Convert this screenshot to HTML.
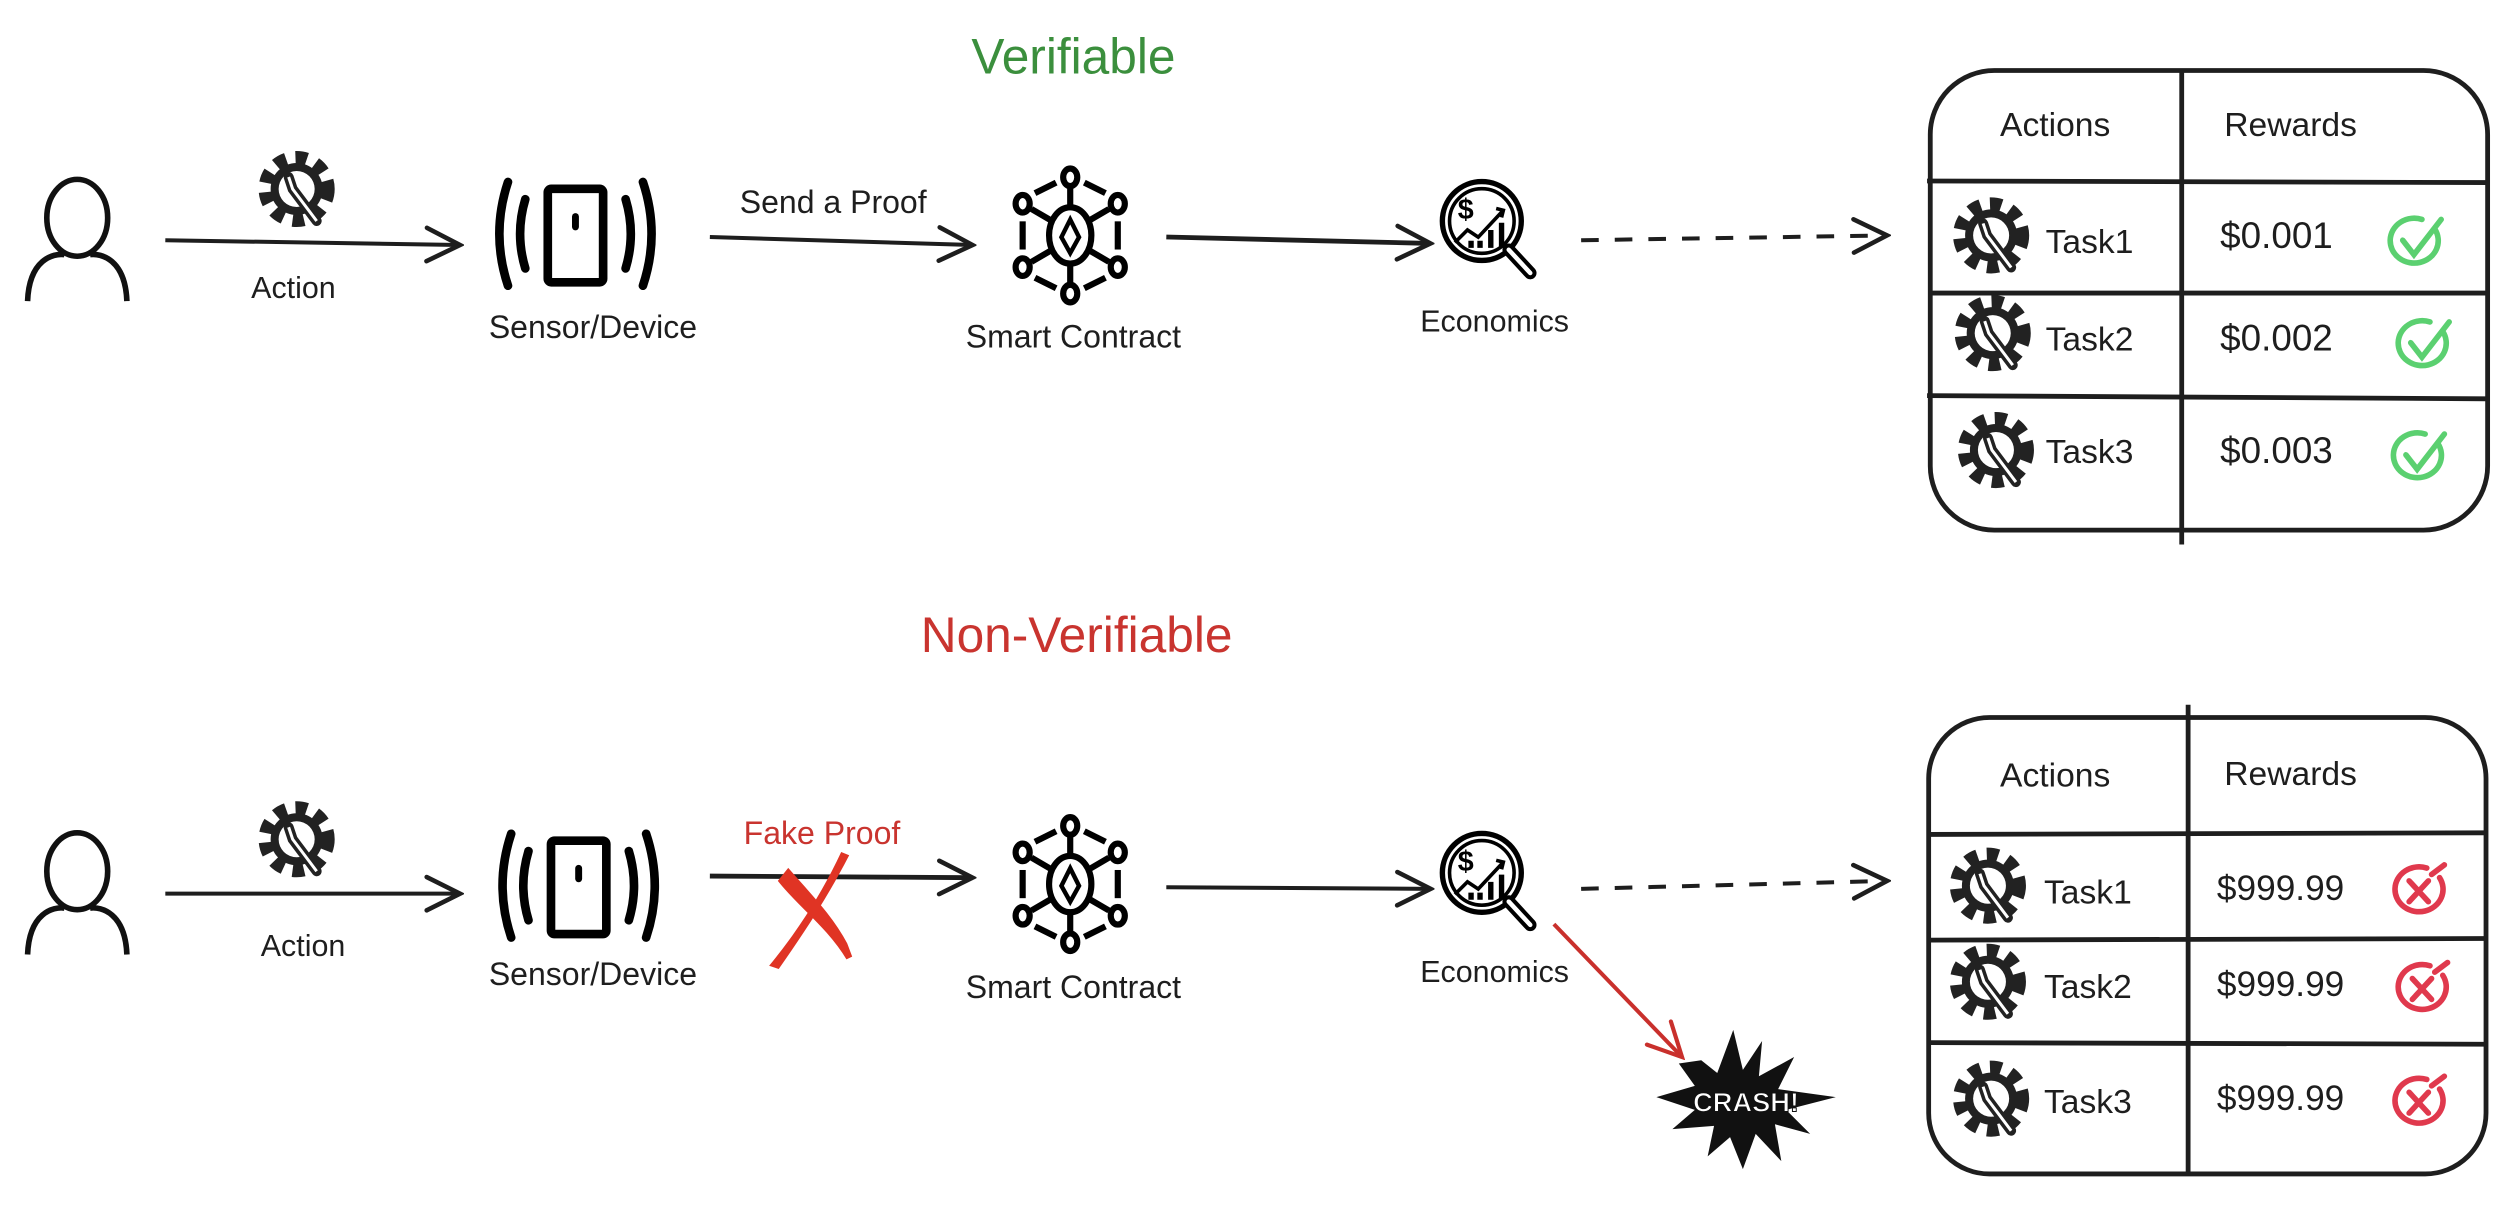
<!DOCTYPE html>
<html><head><meta charset="utf-8"><style>
html,body{margin:0;padding:0;background:#fff;}
svg{display:block;}
text{font-family:"Liberation Sans",sans-serif;}
</style></head><body>
<svg width="2512" height="1214" viewBox="0 0 1568 758" xmlns="http://www.w3.org/2000/svg">
<defs>
<marker id="ah" viewBox="0 0 20 20" refX="18" refY="10" markerWidth="26" markerHeight="26" markerUnits="userSpaceOnUse" orient="auto">
<path d="M2 2 L18 10 L2 18" fill="none" stroke="#1e1e1e" stroke-width="2.2" stroke-linecap="round"/></marker>
<marker id="ahr" viewBox="0 0 20 20" refX="18" refY="10" markerWidth="26" markerHeight="26" markerUnits="userSpaceOnUse" orient="auto">
<path d="M2 2 L18 10 L2 18" fill="none" stroke="#c9302c" stroke-width="2" stroke-linecap="round"/></marker>
<g id="gear0">
<circle cx="0" cy="0" r="15" fill="none" stroke="#222" stroke-width="8" stroke-dasharray="5.5 4.5"/>
<circle cx="0" cy="0" r="13" fill="#222"/>
<circle cx="0" cy="0" r="9" fill="#fff"/>
<path d="M-4 -6 L-2 0 L10 16" stroke="#222" stroke-width="5" fill="none" stroke-linecap="round"/>
<path d="M-4 -6 L-2 0 L10 16" stroke="#fff" stroke-width="1.5" fill="none"/>
</g>
<g id="gear"><use href="#gear0" transform="scale(1.25)"/></g>
<g id="person" fill="none" stroke="#111" stroke-width="3.5">
<ellipse cx="0" cy="-14" rx="19" ry="24"/>
<path d="M-31 38 C-30 12 -15 8 -8 9 M8 9 C15 8 30 12 31 38"/>
</g>
<g id="sensor0">
<rect x="-15" y="-26" width="32" height="54" rx="2" fill="none" stroke="#000" stroke-width="5"/>
<rect x="-1" y="-12" width="4" height="10" rx="2" fill="#000"/>
<path d="M-28 -20 Q-34 0 -28 20" fill="none" stroke="#000" stroke-width="5" stroke-linecap="round"/>
<path d="M-38 -30 Q-48 0 -38 30" fill="none" stroke="#000" stroke-width="5" stroke-linecap="round"/>
<path d="M30 -20 Q36 0 30 20" fill="none" stroke="#000" stroke-width="5" stroke-linecap="round"/>
<path d="M40 -30 Q50 0 40 30" fill="none" stroke="#000" stroke-width="5" stroke-linecap="round"/>
</g>
<g id="sensor"><use href="#sensor0" transform="scale(1.08)"/></g>
<g id="contract0" fill="none" stroke="#000" stroke-width="3.5">
<ellipse cx="0" cy="0" rx="12" ry="16"/>
<path d="M0 -9 L-5 1 L0 10 L5 1 Z" stroke-width="2.5"/>
<line x1="0" y1="-16" x2="0" y2="-28"/><line x1="0" y1="16" x2="0" y2="28"/>
<line x1="-10" y1="-8" x2="-22" y2="-15"/><line x1="10" y1="-8" x2="22" y2="-15"/>
<line x1="-10" y1="8" x2="-22" y2="15"/><line x1="10" y1="8" x2="22" y2="15"/>
<ellipse cx="0" cy="-33" rx="4" ry="5"/><ellipse cx="0" cy="33" rx="4" ry="5"/>
<ellipse cx="-27" cy="-18" rx="4" ry="5"/><ellipse cx="27" cy="-18" rx="4" ry="5"/>
<ellipse cx="-27" cy="18" rx="4" ry="5"/><ellipse cx="27" cy="18" rx="4" ry="5"/>
<line x1="-27" y1="-8" x2="-27" y2="8"/><line x1="27" y1="-8" x2="27" y2="8"/>
<line x1="-8" y1="-30" x2="-20" y2="-24"/><line x1="8" y1="-30" x2="20" y2="-24"/>
<line x1="-8" y1="30" x2="-20" y2="24"/><line x1="8" y1="30" x2="20" y2="24"/>
</g>
<g id="contract"><use href="#contract0" transform="scale(1.1)"/></g>
<g id="econ0" fill="none" stroke="#000">
<circle cx="0" cy="0" r="22" stroke-width="3"/>
<circle cx="0" cy="0" r="18" stroke-width="2"/>
<path d="M15 16 L27 29" stroke-width="7" stroke-linecap="round"/>
<path d="M15 16 L27 29" stroke="#fff" stroke-width="2.5" stroke-linecap="round"/>
<text x="-9" y="-1" font-size="16" fill="#000" stroke="none" font-weight="bold" text-anchor="middle">$</text>
<path d="M-15 12 L-8 5 L-2 9 L12 -6" stroke-width="2"/>
<path d="M8 -7 L12 -6 L11 -2" stroke-width="2"/>
<path d="M-6 15 v-4 M-1 15 v-4 M5 15 v-10 M11 15 v-14" stroke-width="3"/>
</g>
<g id="econ"><use href="#econ0" transform="scale(1.12)"/></g>
<g id="check" fill="none" stroke="#5bd070" stroke-width="3.5" stroke-linecap="round">
<path d="M12 -8 A15 14 0 1 1 4 -14"/>
<path d="M-8 -1 L-1 8 L16 -14"/>
</g>
<g id="xmark" fill="none" stroke="#e0394d" stroke-width="3.5" stroke-linecap="round">
<path d="M13 -8 A15 14 0 1 1 5 -14"/>
<path d="M-6 -6 L6 7 M6 -6 L-6 7"/>
<path d="M8 -10 L16 -16"/>
</g>
</defs>

<!-- TOP -->
<text x="670" y="46" font-size="31" fill="#3b8f3d" text-anchor="middle">Verifiable</text>
<use href="#person" x="48" y="150"/>
<path d="M103 150 L287 153" stroke="#1e1e1e" stroke-width="2.5" fill="none" marker-end="url(#ah)"/>
<use href="#gear" x="185" y="118"/>
<text x="183" y="186" font-size="19" fill="#1e1e1e" text-anchor="middle">Action</text>
<use href="#sensor" x="358" y="146"/>
<text x="370" y="211" font-size="20" fill="#1e1e1e" text-anchor="middle">Sensor/Device</text>
<path d="M443 148 L607 153" stroke="#1e1e1e" stroke-width="2.5" fill="none" marker-end="url(#ah)"/>
<text x="520" y="133" font-size="20" fill="#1e1e1e" text-anchor="middle">Send a Proof</text>
<use href="#contract" x="668" y="147"/>
<text x="670" y="217" font-size="20" fill="#1e1e1e" text-anchor="middle">Smart Contract</text>
<path d="M728 148 L893 152" stroke="#1e1e1e" stroke-width="3" fill="none" marker-end="url(#ah)"/>
<use href="#econ" x="925" y="138"/>
<text x="933" y="207" font-size="19" fill="#1e1e1e" text-anchor="middle">Economics</text>
<path d="M987 150 L1178 147" stroke="#1e1e1e" stroke-width="2.5" stroke-dasharray="11 10" fill="none" marker-end="url(#ah)"/>

<g fill="none" stroke="#1e1e1e" stroke-width="3">
<rect x="1205" y="44" width="348" height="287" rx="40"/>
<line x1="1362" y1="44" x2="1362" y2="340"/>
<line x1="1203" y1="113" x2="1553" y2="114"/>
<line x1="1205" y1="183" x2="1553" y2="183"/>
<line x1="1203" y1="247" x2="1553" y2="249"/>
</g>
<g font-size="21" fill="#1e1e1e">
<text x="1283" y="85" text-anchor="middle">Actions</text>
<text x="1430" y="85" text-anchor="middle">Rewards</text>
<text x="1277" y="158">Task1</text><text x="1277" y="219">Task2</text><text x="1277" y="289">Task3</text>
<text x="1386" y="155" font-size="23">$0.001</text><text x="1386" y="219" font-size="23">$0.002</text><text x="1386" y="289" font-size="23">$0.003</text>
</g>
<use href="#gear" x="1243" y="147"/><use href="#gear" x="1244" y="208"/><use href="#gear" x="1246" y="281"/>
<use href="#check" x="1508" y="151"/><use href="#check" x="1513" y="215"/><use href="#check" x="1510" y="285"/>

<!-- BOTTOM -->
<text x="672" y="407" font-size="31" fill="#c9342f" text-anchor="middle">Non-Verifiable</text>
<use href="#person" x="48" y="558"/>
<path d="M103 558 L287 558" stroke="#1e1e1e" stroke-width="2.5" fill="none" marker-end="url(#ah)"/>
<use href="#gear" x="185" y="524"/>
<text x="189" y="597" font-size="19" fill="#1e1e1e" text-anchor="middle">Action</text>
<use href="#sensor" x="360" y="553"/>
<text x="370" y="615" font-size="20" fill="#1e1e1e" text-anchor="middle">Sensor/Device</text>
<path d="M443 547 L607 548" stroke="#1e1e1e" stroke-width="3" fill="none" marker-end="url(#ah)"/>
<text x="513" y="527" font-size="20" fill="#c9342f" text-anchor="middle">Fake Proof</text>
<path d="M525 532 C512 560 495 585 480 603 L486 605 C500 585 515 563 530 534 Z" fill="#e03424"/>
<path d="M488 550 C500 565 518 578 530 598 L527 590 C518 573 505 560 492 545 Z" fill="#e03424" stroke="#e03424" stroke-width="4"/>
<use href="#contract" x="668" y="552"/>
<text x="670" y="623" font-size="20" fill="#1e1e1e" text-anchor="middle">Smart Contract</text>
<path d="M728 554 L893 555" stroke="#1e1e1e" stroke-width="2.5" fill="none" marker-end="url(#ah)"/>
<use href="#econ" x="925" y="545"/>
<text x="933" y="613" font-size="19" fill="#1e1e1e" text-anchor="middle">Economics</text>
<path d="M987 555 L1178 550" stroke="#1e1e1e" stroke-width="2.5" stroke-dasharray="11 10" fill="none" marker-end="url(#ah)"/>
<path d="M970 577 L1050 660" stroke="#c9302c" stroke-width="2.5" fill="none" marker-end="url(#ahr)"/>
<polygon fill="#111" points="1062,662 1072,670 1082,643 1088,668 1100,650 1098,672 1120,660 1110,680 1146,685 1115,693 1130,708 1108,702 1112,725 1096,708 1088,730 1080,710 1066,722 1070,703 1044,705 1058,693 1034,685 1058,678 1048,664"/>
<text x="1090" y="694" font-size="17" font-weight="bold" fill="#fff" stroke="#111" stroke-width="0.6" text-anchor="middle">CRASH!</text>

<g fill="none" stroke="#1e1e1e" stroke-width="3">
<rect x="1204" y="448" width="348" height="285" rx="38"/>
<line x1="1366" y1="440" x2="1366" y2="733"/>
<line x1="1204" y1="521" x2="1552" y2="520"/>
<line x1="1204" y1="587" x2="1552" y2="586"/>
<line x1="1204" y1="651" x2="1552" y2="652"/>
</g>
<g font-size="21" fill="#1e1e1e">
<text x="1283" y="491" text-anchor="middle">Actions</text>
<text x="1430" y="490" text-anchor="middle">Rewards</text>
<text x="1276" y="564">Task1</text><text x="1276" y="623">Task2</text><text x="1276" y="695">Task3</text>
<text x="1384" y="562" font-size="22">$999.99</text><text x="1384" y="622" font-size="22">$999.99</text><text x="1384" y="693" font-size="22">$999.99</text>
</g>
<use href="#gear" x="1241" y="553"/><use href="#gear" x="1241" y="613"/><use href="#gear" x="1243" y="686"/>
<use href="#xmark" x="1510" y="556"/><use href="#xmark" x="1512" y="617"/><use href="#xmark" x="1510" y="688"/>
</svg>
</body></html>
